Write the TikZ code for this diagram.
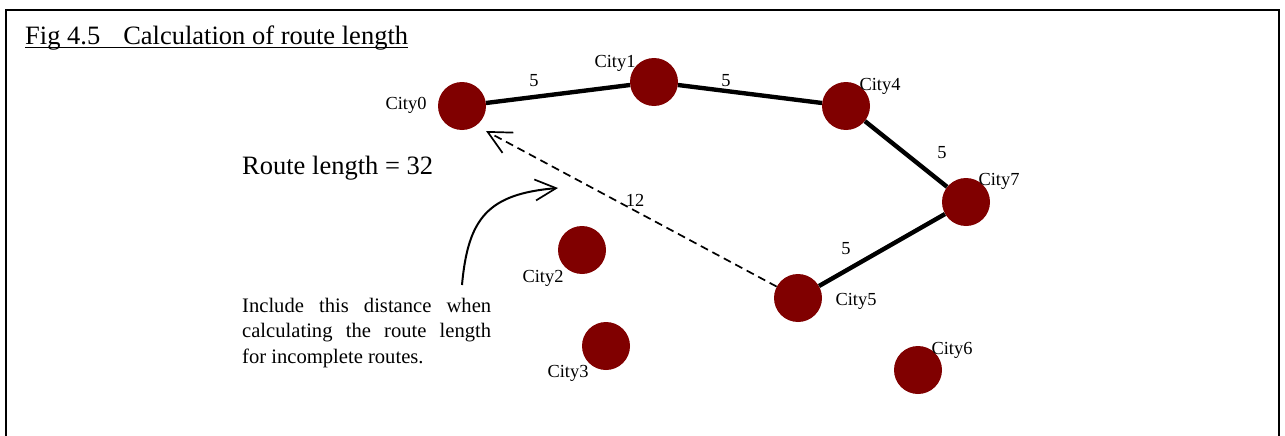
\documentclass[tikz,border=0pt]{standalone}
\usepackage{fontspec}
\setmainfont{Liberation Serif}
\usetikzlibrary{arrows.meta}
\definecolor{citymaroon}{HTML}{800000}
\begin{document}
\begin{tikzpicture}[x=1pt,y=-1pt,
  city/.style={circle,fill=citymaroon,minimum size=48pt,inner sep=0pt},
  citylabel/.style={anchor=base,inner sep=0pt,font=\fontsize{18.4}{22}\selectfont},
  dist/.style={anchor=base,inner sep=0pt,font=\fontsize{18.4}{22}\selectfont},
  leg/.style={line width=4.4pt},
  openbarb/.style={-{Straight Barb[length=#1,width=#1,line width=1.7pt]}}
]
\clip (0,0) rectangle (1285,436);
% outer frame
\draw[line width=2pt] (6,10) rectangle (1279,470);

% title
\node[anchor=base west,inner sep=0pt,font=\fontsize{26.5}{30}\selectfont] (title) at (25,45)
  {Fig 4.5\hspace{23pt}Calculation of route length};
\draw[line width=1.3pt] ([yshift=-2.5pt]title.base west) -- ([yshift=-2.5pt]title.base east);

% cities
\node[city] (c0) at (462,106) {};
\node[city] (c1) at (654,82) {};
\node[city] (c4) at (846,106) {};
\node[city] (c7) at (966,202) {};
\node[city] (c5) at (798,298) {};
\node[city] (c2) at (582,250) {};
\node[city] (c3) at (606,346) {};
\node[city] (c6) at (918,370) {};

\node[citylabel] (l0) at (406,110) {City0};
\node[citylabel] (l1) at (615,67) {City1};
\node[citylabel] (l4) at (880,90) {City4};
\node[citylabel] (l7) at (999,185) {City7};
\node[citylabel] (l5) at (856,305) {City5};
\node[citylabel] (l6) at (952,354) {City6};
\node[citylabel] (l2) at (543,282) {City2};
\node[citylabel] (l3) at (568,377) {City3};

% route legs
\draw[leg] (c0) -- (c1);
\draw[leg] (c1) -- (c4);
\draw[leg] (c4) -- (c7);
\draw[leg] (c7) -- (c5);

% leg distances
\node[dist] (d01) at (534,86) {5};
\node[dist] (d14) at (726,86) {5};
\node[dist] (d47) at (942,158) {5};
\node[dist] (d75) at (846,254) {5};
\node[dist] (d50) at (635,206) {12};

% closing distance back to the start
\coordinate (backtip) at (486,131);
\draw[line width=1.7pt,dash pattern=on 8pt off 5pt,openbarb=23pt] (c5) -- (backtip);

% route length
\node[anchor=base west,inner sep=0pt,font=\fontsize{26.5}{30}\selectfont] (total) at (242,174)
  {Route length = 32};

% note with pointer
\node[anchor=base west,inner sep=0pt,text width=249pt,align=justify,
      font=\fontsize{20.6}{25.5}\selectfont] (note) at (242,312)
  {\hyphenpenalty=10000 Include this distance when\linebreak calculating the route length\linebreak for incomplete routes.};
\coordinate (notestart) at (462,285);
\coordinate (notetip) at (558,188);
\draw[line width=2pt,openbarb=21pt] (notestart) .. controls (468,218) and (488,194) .. (notetip);
\end{tikzpicture}
\end{document}
